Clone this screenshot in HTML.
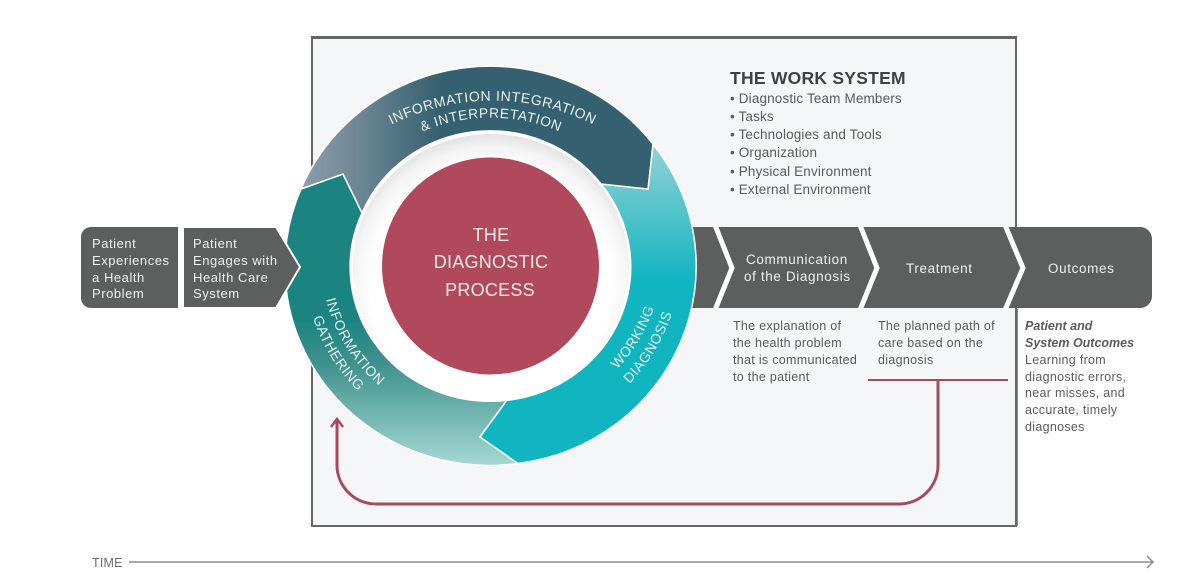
<!DOCTYPE html>
<html><head><meta charset="utf-8"><style>
html,body{margin:0;padding:0;background:#fff;width:1199px;height:582px;overflow:hidden}
svg{display:block}
text{font-family:"Liberation Sans",sans-serif}
.w{fill:#f0f0ee;font-size:13px;letter-spacing:.55px}
.m{fill:#f0f0ee;font-size:13.5px;letter-spacing:.62px}
.b{fill:#5a5b5b;font-size:12.5px;letter-spacing:.3px}
.l{fill:#5a5b5b;font-size:13.5px;letter-spacing:.15px}
.r{fill:#e8f2f3;font-size:14px;letter-spacing:.6px}
.c{fill:#f6e6e6;font-size:18px;letter-spacing:.25px;text-anchor:middle}
</style></head><body>
<svg width="1199" height="582" viewBox="0 0 1199 582" xmlns="http://www.w3.org/2000/svg">
<defs>
<linearGradient id="gb" gradientUnits="userSpaceOnUse" x1="300" y1="0" x2="440" y2="0"><stop offset="0" stop-color="#8d9dac"/><stop offset=".4" stop-color="#6f8896"/><stop offset="1" stop-color="#35606f"/></linearGradient>
<linearGradient id="gt" gradientUnits="userSpaceOnUse" x1="0" y1="320" x2="0" y2="464"><stop offset="0" stop-color="#1b8480"/><stop offset=".3" stop-color="#3f918e"/><stop offset="1" stop-color="#a3d7d2"/></linearGradient>
<linearGradient id="gc" gradientUnits="userSpaceOnUse" x1="0" y1="145" x2="0" y2="280"><stop offset="0" stop-color="#93d2d6"/><stop offset="1" stop-color="#11b5c0"/></linearGradient>
<radialGradient id="gr" gradientUnits="userSpaceOnUse" cx="491" cy="285" r="153"><stop offset=".78" stop-color="#fff"/><stop offset=".9" stop-color="#f4f4f4"/><stop offset="1" stop-color="#dfe0e0"/></radialGradient>
</defs>
<rect x="312" y="38" width="704" height="488" fill="#f5f6f8" stroke="#666" stroke-width="2"/>
<rect x="311" y="36" width="706" height="3" fill="#666"/>
<rect x="1018" y="309" width="160" height="230" fill="#fff"/>
<path d="M1017 309V526" stroke="#666" stroke-width="1.500"/>

<!-- left boxes -->
<path d="M91 227H178V308H91A10 10 0 0 1 81 298V237A10 10 0 0 1 91 227Z" fill="#5d5e5e"/>
<!-- right band -->
<path d="M680 227H1140A12 12 0 0 1 1152 239V296A12 12 0 0 1 1140 308H680Z" fill="#5d5e5e"/>
<path d="M715 225L732 268L715 310M860 225L877 268L860 310M1005 225L1023 268L1005 310" fill="none" stroke="#fff" stroke-width="5"/>

<!-- ring -->
<g stroke="#fff" stroke-width="1.500" stroke-linejoin="miter">
<path d="M301 189A205 199 0 0 0 518 463.500L480 437L507 400A139 134 0 0 1 362 213L343 174Z" fill="url(#gt)"/>
<path d="M653 144A205 199 0 0 1 518 463.500L480 437L507 400A139 134 0 0 0 601 184L648 189Z" fill="url(#gc)"/>
<path d="M301 189A205 199 0 0 1 653 144L648 189L601 184A139 134 0 0 0 362 213L343 174Z" fill="url(#gb)"/>
</g>
<path d="M183 227H276L300 267L276 308H183Z" fill="#5d5e5e" stroke="#fff" stroke-width="2"/>
<ellipse cx="491" cy="267" rx="139" ry="134" fill="url(#gr)" stroke="#fff" stroke-width="2"/>
<circle cx="490.500" cy="266" r="108.500" fill="#b0495c"/>

<!-- paths for curved text -->
<path id="p1" d="M385 128A225 225 0 0 1 600 128" fill="none"/>
<path id="p2" d="M419 133A177 177 0 0 1 563 133" fill="none"/>
<path id="p3" d="M323 285A168 168 0 0 0 391 395" fill="none"/>
<path id="p4" d="M307 295A187 187 0 0 0 376 407" fill="none"/>
<path id="p5" d="M600 385A168 168 0 0 0 660 285" fill="none"/>
<path id="p6" d="M612 400A187 187 0 0 0 678 290" fill="none"/>
<text class="r"><textPath href="#p1" startOffset="50%" text-anchor="middle">INFORMATION INTEGRATION</textPath></text>
<text class="r" style="font-size:13.800px"><textPath href="#p2" startOffset="50%" text-anchor="middle">&amp; INTERPRETATION</textPath></text>
<text class="r"><textPath href="#p3" startOffset="50%" text-anchor="middle">INFORMATION</textPath></text>
<text class="r"><textPath href="#p4" startOffset="50%" text-anchor="middle">GATHERING</textPath></text>
<text class="r"><textPath href="#p5" startOffset="50%" text-anchor="middle">WORKING</textPath></text>
<text class="r"><textPath href="#p6" startOffset="50%" text-anchor="middle">DIAGNOSIS</textPath></text>

<text class="c" x="491" y="241">THE</text>
<text class="c" x="491" y="268">DIAGNOSTIC</text>
<text class="c" x="490" y="296">PROCESS</text>

<text class="w" x="92" y="248">Patient</text>
<text class="w" x="92" y="265">Experiences</text>
<text class="w" x="92" y="282">a Health</text>
<text class="w" x="92" y="298">Problem</text>
<text class="w" x="193" y="248">Patient</text>
<text class="w" x="193" y="265">Engages with</text>
<text class="w" x="193" y="282">Health Care</text>
<text class="w" x="193" y="298">System</text>
<text class="m" x="746" y="264">Communication</text>
<text class="m" x="744" y="281">of the Diagnosis</text>
<text class="m" x="906" y="273">Treatment</text>
<text class="m" x="1048" y="273">Outcomes</text>

<text x="730" y="84" fill="#3f4142" font-size="17.500" font-weight="bold" letter-spacing=".25">THE WORK SYSTEM</text>
<text class="l" x="730" y="103">• Diagnostic Team Members</text>
<text class="l" x="730" y="121">• Tasks</text>
<text class="l" x="730" y="139">• Technologies and Tools</text>
<text class="l" x="730" y="157">• Organization</text>
<text class="l" x="730" y="176">• Physical Environment</text>
<text class="l" x="730" y="194">• External Environment</text>

<text class="b" x="733" y="330">The explanation of</text>
<text class="b" x="733" y="347">the health problem</text>
<text class="b" x="733" y="364">that is communicated</text>
<text class="b" x="733" y="381">to the patient</text>
<text class="b" x="878" y="330">The planned path of</text>
<text class="b" x="878" y="347">care based on the</text>
<text class="b" x="878" y="364">diagnosis</text>
<text class="b" x="1025" y="330" font-style="italic" font-weight="bold" style="letter-spacing:0">Patient and</text>
<text class="b" x="1025" y="347" font-style="italic" font-weight="bold" style="letter-spacing:0">System Outcomes</text>
<text class="b" x="1025" y="364">Learning from</text>
<text class="b" x="1025" y="381">diagnostic errors,</text>
<text class="b" x="1025" y="397">near misses, and</text>
<text class="b" x="1025" y="414">accurate, timely</text>
<text class="b" x="1025" y="431">diagnoses</text>

<!-- feedback -->
<path d="M868 380H1008" stroke="#a84a5c" stroke-width="2" fill="none"/>
<path d="M938 380V465A39 39 0 0 1 899 504H376A39 39 0 0 1 337 465V419" stroke="#a84a5c" stroke-width="3" fill="none"/>
<path d="M331 427L337 419L343 427" stroke="#a84a5c" stroke-width="2.500" fill="none"/>

<!-- time -->
<text x="92" y="567" fill="#6a6b6b" font-size="12.500" letter-spacing=".2">TIME</text>
<path d="M129 562H1153M1147 556L1153 562L1147 568" stroke="#8a8b8b" stroke-width="1.500" fill="none"/>
</svg>
</body></html>
